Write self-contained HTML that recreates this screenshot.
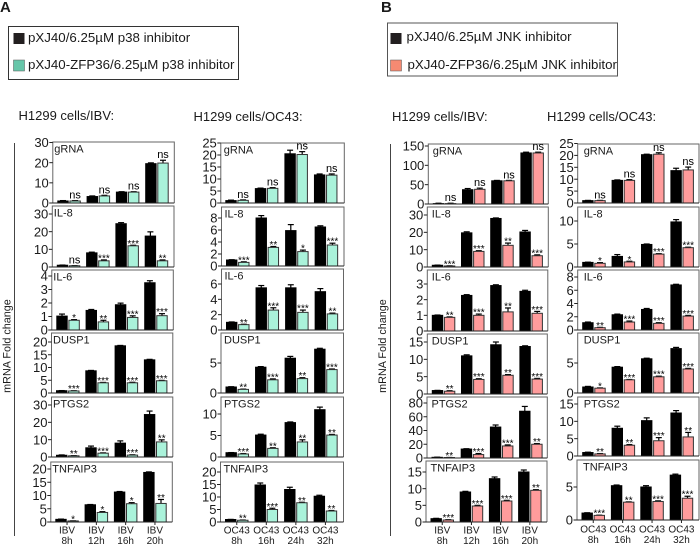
<!DOCTYPE html>
<html lang="en">
<head>
<meta charset="utf-8">
<title>mRNA fold change in H1299 cells with p38 and JNK inhibitors</title>
<style>
html,body{margin:0;padding:0;background:#fff}
#figure{display:block;width:700px;height:548px;font-family:"Liberation Sans",sans-serif;fill:#1a1a1a;filter:blur(0.3px)}
</style>
</head>
<body>
<svg id="figure" xmlns="http://www.w3.org/2000/svg" width="700" height="548" viewBox="0 0 700 548">
  <text x="0" y="12" font-size="15" font-weight="bold">A</text>
  <text x="381" y="12" font-size="15" font-weight="bold">B</text>

  <g>
    <rect x="8.5" y="26.5" width="230" height="53" fill="#fff" stroke="#333" stroke-width="1"/>
    <rect x="13.5" y="33" width="11" height="11" fill="#231f20"/>
    <text x="28" y="42" font-size="13.3">pXJ40/6.25µM p38 inhibitor</text>
    <rect x="13.5" y="60" width="11" height="11" fill="#66c6a9" stroke="#555" stroke-width="0.5"/>
    <text x="28" y="69" font-size="13.3">pXJ40-ZFP36/6.25µM p38 inhibitor</text>
  </g>
  <g>
    <rect x="387.5" y="23" width="230" height="53" fill="#fff" stroke="#555" stroke-width="1"/>
    <rect x="390.5" y="33" width="11" height="11" fill="#231f20"/>
    <text x="406.5" y="41" font-size="13.3">pXJ40/6.25µM JNK inhibitor</text>
    <rect x="390.5" y="60" width="11" height="11" fill="#f58a72" stroke="#555" stroke-width="0.5"/>
    <text x="407.5" y="69" font-size="13.3">pXJ40-ZFP36/6.25µM JNK inhibitor</text>
  </g>

  <text x="18.5" y="120" font-size="13">H1299 cells/IBV:</text>
  <text x="193.5" y="121" font-size="13">H1299 cells/OC43:</text>
  <text x="392" y="121" font-size="13">H1299 cells/IBV:</text>
  <text x="547" y="121" font-size="13">H1299 cells/OC43:</text>

  <line x1="14.5" y1="143" x2="14.5" y2="536" stroke="#444" stroke-width="1"/>
  <line x1="390.5" y1="144" x2="390.5" y2="536" stroke="#444" stroke-width="1"/>
  <text transform="translate(10.5 346) rotate(-90)" text-anchor="middle" font-size="10.8">mRNA Fold change</text>
  <text transform="translate(386 346) rotate(-90)" text-anchor="middle" font-size="10.8">mRNA Fold change</text>
  <g id="charts"></g>
</svg>

<script>
/* ---------- Shared labels ---------- */
const ibvCategories = ['8h', '12h', '16h', '20h'];
const oc43Categories = ['8h', '16h', '24h', '32h'];

/* ---------- A / IBV ---------- */
const aIbvGrnaTicks = [0, 10, 20, 30];
const aIbvGrnaControl = [1, 3.2, 5.4, 19.5];
const aIbvGrnaZfp = [1, 3.5, 5.4, 19.8];
const aIbvGrnaControlErr = [0.2, 0.3, 0.2, 0.4];
const aIbvGrnaZfpErr = [0.2, 0.3, 0.2, 1.4];
const aIbvGrnaSig = ['ns', 'ns', 'ns', 'ns'];

const aIbvIl8Ticks = [0, 10, 20, 30];
const aIbvIl8Control = [1, 8, 24.5, 17.5];
const aIbvIl8Zfp = [0.7, 3.5, 12, 3.5];
const aIbvIl8ControlErr = [0.1, 0.4, 0.6, 2.4];
const aIbvIl8ZfpErr = [0.1, 0.5, 0.3, 0.5];
const aIbvIl8Sig = ['ns', '***', '***', '**'];

const aIbvIl6Ticks = [0, 1, 2, 3, 4];
const aIbvIl6Control = [1.03, 1.45, 1.87, 3.5];
const aIbvIl6Zfp = [0.72, 0.6, 0.93, 1.06];
const aIbvIl6ControlErr = [0.15, 0.07, 0.12, 0.15];
const aIbvIl6ZfpErr = [0.05, 0.12, 0.12, 0.15];
const aIbvIl6Sig = ['*', '**', '***', '***'];

const aIbvDusp1Ticks = [0, 5, 10, 15, 20];
const aIbvDusp1Control = [0.9, 8.7, 18.5, 13];
const aIbvDusp1Zfp = [0.8, 4, 4, 4.8];
const aIbvDusp1ControlErr = [0.05, 0.15, 0.15, 0.2];
const aIbvDusp1ZfpErr = [0.1, 0.15, 0.2, 0.15];
const aIbvDusp1Sig = ['***', '***', '***', '***'];

const aIbvPtgs2Ticks = [0, 10, 20, 30];
const aIbvPtgs2Control = [1, 5.3, 8, 24.5];
const aIbvPtgs2Zfp = [0.7, 2.2, 1.1, 8.7];
const aIbvPtgs2ControlErr = [0.2, 1, 1.3, 2];
const aIbvPtgs2ZfpErr = [0.1, 0.2, 0.2, 1.2];
const aIbvPtgs2Sig = ['**', '***', '***', '**'];

const aIbvTnfTicks = [0, 5, 10, 15, 20];
const aIbvTnfControl = [1, 6.5, 11.3, 18.7];
const aIbvTnfZfp = [0.4, 3.6, 6.9, 7];
const aIbvTnfControlErr = [0.1, 0.1, 0.2, 0.2];
const aIbvTnfZfpErr = [0.05, 0.3, 0.4, 1.5];
const aIbvTnfSig = ['*', '*', '*', '**'];

/* ---------- A / OC43 ---------- */
const aOcGrnaTicks = [0, 5, 10, 15, 20, 25];
const aOcGrnaControl = [1, 6, 20.5, 11.7];
const aOcGrnaZfp = [1.1, 6.1, 20.2, 11.6];
const aOcGrnaControlErr = [0.2, 0.2, 1.5, 0.4];
const aOcGrnaZfpErr = [0.2, 0.3, 1.2, 0.5];
const aOcGrnaSig = ['ns', 'ns', 'ns', 'ns'];

const aOcIl8Ticks = [0, 2, 4, 6, 8];
const aOcIl8Control = [1, 8, 5.9, 6.5];
const aOcIl8Zfp = [0.6, 3.1, 2.4, 3.5];
const aOcIl8ControlErr = [0.05, 0.4, 1, 0.2];
const aOcIl8ZfpErr = [0.1, 0.15, 0.25, 0.3];
const aOcIl8Sig = ['***', '**', '*', '***'];

const aOcIl6Ticks = [0, 2, 4, 6];
const aOcIl6Control = [1, 5.5, 5.5, 5];
const aOcIl6Zfp = [0.7, 2.6, 2.3, 2.1];
const aOcIl6ControlErr = [0.05, 0.3, 0.4, 0.4];
const aOcIl6ZfpErr = [0.05, 0.3, 0.3, 0.1];
const aOcIl6Sig = ['**', '***', '***', '**'];

const aOcDusp1Ticks = [0, 5];
const aOcDusp1Control = [1, 4.3, 5.8, 7.3];
const aOcDusp1Zfp = [0.6, 2.2, 2.4, 3.9];
const aOcDusp1ControlErr = [0.05, 0.1, 0.3, 0.15];
const aOcDusp1ZfpErr = [0.05, 0.15, 0.15, 0.1];
const aOcDusp1Sig = ['**', '***', '**', '***'];

const aOcPtgs2Ticks = [0, 5, 10];
const aOcPtgs2Control = [1, 5.1, 8, 11];
const aOcPtgs2Zfp = [0.7, 2, 3.5, 5.1];
const aOcPtgs2ControlErr = [0.03, 0.2, 0.15, 0.6];
const aOcPtgs2ZfpErr = [0.1, 0.15, 0.5, 0.15];
const aOcPtgs2Sig = ['***', '**', '**', '**'];

const aOcTnfTicks = [0, 5, 10, 15, 20];
const aOcTnfControl = [1, 14.8, 13, 10.3];
const aOcTnfZfp = [0.7, 5, 7.7, 4.4];
const aOcTnfControlErr = [0.05, 0.8, 0.9, 0.4];
const aOcTnfZfpErr = [0.1, 0.5, 0.2, 0.2];
const aOcTnfSig = ['**', '***', '**', '**'];

/* ---------- B / IBV ---------- */
const bIbvGrnaTicks = [0, 50, 100, 150];
const bIbvGrnaControl = [1, 37, 60, 132];
const bIbvGrnaZfp = [1, 38, 60, 132];
const bIbvGrnaControlErr = [1, 3, 1, 2];
const bIbvGrnaZfpErr = [1, 3, 1, 2];
const bIbvGrnaSig = ['ns', 'ns', 'ns', 'ns'];

const bIbvIl8Ticks = [0, 10, 20, 30];
const bIbvIl8Control = [1, 19.7, 28, 20.2];
const bIbvIl8Zfp = [0.6, 9, 12.5, 6.5];
const bIbvIl8ControlErr = [0.1, 0.6, 0.3, 0.9];
const bIbvIl8ZfpErr = [0.1, 0.4, 1.3, 0.5];
const bIbvIl8Sig = ['***', '***', '**', '***'];

const bIbvIl6Ticks = [0, 1, 2, 3];
const bIbvIl6Control = [1, 2.27, 2.9, 2.53];
const bIbvIl6Zfp = [0.87, 1, 1.22, 1.13];
const bIbvIl6ControlErr = [0.02, 0.05, 0.05, 0.07];
const bIbvIl6ZfpErr = [0.03, 0.08, 0.25, 0.12];
const bIbvIl6Sig = ['**', '***', '**', '***'];

const bIbvDusp1Ticks = [0, 5, 10, 15];
const bIbvDusp1Control = [1, 11, 14.2, 13.7];
const bIbvDusp1Zfp = [0.8, 4.2, 5.4, 4.3];
const bIbvDusp1ControlErr = [0.05, 0.3, 0.8, 0.2];
const bIbvDusp1ZfpErr = [0.15, 0.2, 0.2, 0.2];
const bIbvDusp1Sig = ['**', '***', '**', '***'];

const bIbvPtgs2Ticks = [0, 20, 40, 60, 80];
const bIbvPtgs2Control = [1, 13, 45, 68];
const bIbvPtgs2Zfp = [0.7, 5, 17.5, 20];
const bIbvPtgs2ControlErr = [0.2, 0.5, 3, 7];
const bIbvPtgs2ZfpErr = [0.1, 1.5, 1.5, 1];
const bIbvPtgs2Sig = ['**', '***', '***', '**'];

const bIbvTnfTicks = [0, 5, 10, 15];
const bIbvTnfControl = [1, 9, 13, 15];
const bIbvTnfZfp = [0.6, 4.8, 6.3, 9.5];
const bIbvTnfControlErr = [0.1, 0.2, 0.5, 0.6];
const bIbvTnfZfpErr = [0.1, 0.2, 0.2, 0.2];
const bIbvTnfSig = ['***', '***', '***', '**'];

/* ---------- B / OC43 ---------- */
const bOcGrnaTicks = [0, 5, 10, 15, 20, 25];
const bOcGrnaControl = [1, 9.5, 20.3, 13.6];
const bOcGrnaZfp = [1, 9.5, 20.5, 13.9];
const bOcGrnaControlErr = [0.1, 0.2, 0.2, 1];
const bOcGrnaZfpErr = [0.1, 0.3, 0.6, 1.2];
const bOcGrnaSig = ['ns', 'ns', 'ns', 'ns'];

const bOcIl8Ticks = [0, 5, 10];
const bOcIl8Control = [1, 2.3, 4.9, 9.8];
const bOcIl8Zfp = [0.8, 1.1, 2.8, 4.2];
const bOcIl8ControlErr = [0.05, 0.4, 0.1, 0.5];
const bOcIl8ZfpErr = [0.15, 0.15, 0.1, 0.1];
const bOcIl8Sig = ['*', '*', '***', '***'];

const bOcIl6Ticks = [0, 2, 4, 6, 8];
const bOcIl6Control = [1.1, 2.3, 3.1, 6.8];
const bOcIl6Zfp = [0.35, 1.2, 1, 2.1];
const bOcIl6ControlErr = [0.1, 0.1, 0.15, 0.1];
const bOcIl6ZfpErr = [0.05, 0.15, 0.1, 0.1];
const bOcIl6Sig = ['**', '***', '***', '***'];

const bOcDusp1Ticks = [0, 5];
const bOcDusp1Control = [1, 4.3, 5.7, 7.4];
const bOcDusp1Zfp = [0.8, 2.2, 2.7, 4];
const bOcDusp1ControlErr = [0.1, 0.1, 0.1, 0.2];
const bOcDusp1ZfpErr = [0.05, 0.05, 0.1, 0.1];
const bOcDusp1Sig = ['*', '***', '***', '***'];

const bOcPtgs2Ticks = [0, 5, 10, 15];
const bOcPtgs2Control = [1, 8, 10.2, 12.4];
const bOcPtgs2Zfp = [0.6, 3.1, 4.4, 5.5];
const bOcPtgs2ControlErr = [0.1, 0.6, 0.8, 0.7];
const bOcPtgs2ZfpErr = [0.1, 0.2, 0.9, 1.3];
const bOcPtgs2Sig = ['**', '**', '***', '**'];

const bOcTnfTicks = [0, 5];
const bOcTnfControl = [1.05, 5.2, 5, 6.8];
const bOcTnfZfp = [0.7, 2.7, 2.8, 3.3];
const bOcTnfControlErr = [0.05, 0.1, 0.2, 0.15];
const bOcTnfZfpErr = [0.03, 0.05, 0.1, 0.3];
const bOcTnfSig = ['***', '**', '***', '***'];

/* ---------- Layout (pixels; not data) ---------- */
const columns = [
  {id: 'a-ibv', virus: 'IBV', cats: ibvCategories, pitch: 29.3, labelDx: 1.5, zfpFill: '#aaf2da', xLabelY: 533.5, panels: [
    {gene: 'gRNA',    box: [52.8, 174.3, 142, 203], ref: [30, 142.5], ticks: aIbvGrnaTicks,  c: aIbvGrnaControl,  z: aIbvGrnaZfp,  ce: aIbvGrnaControlErr,  ze: aIbvGrnaZfpErr,  sig: aIbvGrnaSig},
    {gene: 'IL-8',    box: [52.3, 174,   206, 267], ref: [30, 214],   ticks: aIbvIl8Ticks,   c: aIbvIl8Control,   z: aIbvIl8Zfp,   ce: aIbvIl8ControlErr,   ze: aIbvIl8ZfpErr,   sig: aIbvIl8Sig},
    {gene: 'IL-6',    box: [51.8, 173.3, 270, 330], ref: [4, 276],    ticks: aIbvIl6Ticks,   c: aIbvIl6Control,   z: aIbvIl6Zfp,   ce: aIbvIl6ControlErr,   ze: aIbvIl6ZfpErr,   sig: aIbvIl6Sig},
    {gene: 'DUSP1',   box: [51.5, 172.8, 333, 393], ref: [20, 342],   ticks: aIbvDusp1Ticks, c: aIbvDusp1Control, z: aIbvDusp1Zfp, ce: aIbvDusp1ControlErr, ze: aIbvDusp1ZfpErr, sig: aIbvDusp1Sig},
    {gene: 'PTGS2',   box: [51.5, 172.8, 397, 457], ref: [30, 405],   ticks: aIbvPtgs2Ticks, c: aIbvPtgs2Control, z: aIbvPtgs2Zfp, ce: aIbvPtgs2ControlErr, ze: aIbvPtgs2ZfpErr, sig: aIbvPtgs2Sig},
    {gene: 'TNFAIP3', box: [50.8, 172.3, 462, 522], ref: [20, 469],   ticks: aIbvTnfTicks,   c: aIbvTnfControl,   z: aIbvTnfZfp,   ce: aIbvTnfControlErr,   ze: aIbvTnfZfpErr,   sig: aIbvTnfSig}
  ]},
  {id: 'a-oc43', virus: 'OC43', cats: oc43Categories, pitch: 29.55, labelDx: 3, zfpFill: '#aaf2da', xLabelY: 533.5, panels: [
    {gene: 'gRNA',    box: [220.8, 344.3, 143, 203], ref: [25, 143],  ticks: aOcGrnaTicks,  c: aOcGrnaControl,  z: aOcGrnaZfp,  ce: aOcGrnaControlErr,  ze: aOcGrnaZfpErr,  sig: aOcGrnaSig},
    {gene: 'IL-8',    box: [221.5, 344,   207, 266], ref: [8, 218],   ticks: aOcIl8Ticks,   c: aOcIl8Control,   z: aOcIl8Zfp,   ce: aOcIl8ControlErr,   ze: aOcIl8ZfpErr,   sig: aOcIl8Sig},
    {gene: 'IL-6',    box: [221.5, 343.5, 269, 330], ref: [6, 284],   ticks: aOcIl6Ticks,   c: aOcIl6Control,   z: aOcIl6Zfp,   ce: aOcIl6ControlErr,   ze: aOcIl6ZfpErr,   sig: aOcIl6Sig},
    {gene: 'DUSP1',   box: [221,   343.5, 333, 393], ref: [5, 363],   ticks: aOcDusp1Ticks, c: aOcDusp1Control, z: aOcDusp1Zfp, ce: aOcDusp1ControlErr, ze: aOcDusp1ZfpErr, sig: aOcDusp1Sig},
    {gene: 'PTGS2',   box: [221,   343.5, 397, 457], ref: [10, 414],  ticks: aOcPtgs2Ticks, c: aOcPtgs2Control, z: aOcPtgs2Zfp, ce: aOcPtgs2ControlErr, ze: aOcPtgs2ZfpErr, sig: aOcPtgs2Sig},
    {gene: 'TNFAIP3', box: [220.5, 343.5, 462, 522], ref: [20, 472],  ticks: aOcTnfTicks,   c: aOcTnfControl,   z: aOcTnfZfp,   ce: aOcTnfControlErr,   ze: aOcTnfZfpErr,   sig: aOcTnfSig}
  ]},
  {id: 'b-ibv', virus: 'IBV', cats: ibvCategories, pitch: 29.2, labelDx: 4.5, zfpFill: '#ff9c9c', xLabelY: 533.5, panels: [
    {gene: 'gRNA',    box: [428.3, 548.3, 144, 204], ref: [150, 146], ticks: bIbvGrnaTicks,  c: bIbvGrnaControl,  z: bIbvGrnaZfp,  ce: bIbvGrnaControlErr,  ze: bIbvGrnaZfpErr,  sig: bIbvGrnaSig},
    {gene: 'IL-8',    box: [427.3, 548.3, 207, 267], ref: [30, 215],  ticks: bIbvIl8Ticks,   c: bIbvIl8Control,   z: bIbvIl8Zfp,   ce: bIbvIl8ControlErr,   ze: bIbvIl8ZfpErr,   sig: bIbvIl8Sig},
    {gene: 'IL-6',    box: [427.3, 547.8, 270, 331], ref: [3, 284],   ticks: bIbvIl6Ticks,   c: bIbvIl6Control,   z: bIbvIl6Zfp,   ce: bIbvIl6ControlErr,   ze: bIbvIl6ZfpErr,   sig: bIbvIl6Sig},
    {gene: 'DUSP1',   box: [427.3, 547.3, 334, 394], ref: [15, 342],  ticks: bIbvDusp1Ticks, c: bIbvDusp1Control, z: bIbvDusp1Zfp, ce: bIbvDusp1ControlErr, ze: bIbvDusp1ZfpErr, sig: bIbvDusp1Sig},
    {gene: 'PTGS2',   box: [427,   547.3, 397, 458], ref: [80, 403],  ticks: bIbvPtgs2Ticks, c: bIbvPtgs2Control, z: bIbvPtgs2Zfp, ce: bIbvPtgs2ControlErr, ze: bIbvPtgs2ZfpErr, sig: bIbvPtgs2Sig},
    {gene: 'TNFAIP3', box: [426,   547,   461, 522], ref: [15, 472],  ticks: bIbvTnfTicks,   c: bIbvTnfControl,   z: bIbvTnfZfp,   ce: bIbvTnfControlErr,   ze: bIbvTnfZfpErr,   sig: bIbvTnfSig}
  ]},
  {id: 'b-oc43', virus: 'OC43', cats: oc43Categories, pitch: 29.4, labelDx: 6, zfpFill: '#ff9c9c', xLabelY: 532.5, panels: [
    {gene: 'gRNA',    box: [577.7, 699, 144, 203], ref: [25, 143.5], ticks: bOcGrnaTicks,  c: bOcGrnaControl,  z: bOcGrnaZfp,  ce: bOcGrnaControlErr,  ze: bOcGrnaZfpErr,  sig: bOcGrnaSig},
    {gene: 'IL-8',    box: [577.7, 699, 207, 267], ref: [10, 221],   ticks: bOcIl8Ticks,   c: bOcIl8Control,   z: bOcIl8Zfp,   ce: bOcIl8ControlErr,   ze: bOcIl8ZfpErr,   sig: bOcIl8Sig},
    {gene: 'IL-6',    box: [577.7, 699, 270, 330], ref: [8, 277],    ticks: bOcIl6Ticks,   c: bOcIl6Control,   z: bOcIl6Zfp,   ce: bOcIl6ControlErr,   ze: bOcIl6ZfpErr,   sig: bOcIl6Sig},
    {gene: 'DUSP1',   box: [577.7, 699, 333, 393], ref: [5, 363],    ticks: bOcDusp1Ticks, c: bOcDusp1Control, z: bOcDusp1Zfp, ce: bOcDusp1ControlErr, ze: bOcDusp1ZfpErr, sig: bOcDusp1Sig},
    {gene: 'PTGS2',   box: [577.7, 699, 397, 456], ref: [15, 404],   ticks: bOcPtgs2Ticks, c: bOcPtgs2Control, z: bOcPtgs2Zfp, ce: bOcPtgs2ControlErr, ze: bOcPtgs2ZfpErr, sig: bOcPtgs2Sig},
    {gene: 'TNFAIP3', box: [577,   699, 460, 520], ref: [5, 487],    ticks: bOcTnfTicks,   c: bOcTnfControl,   z: bOcTnfZfp,   ce: bOcTnfControlErr,   ze: bOcTnfZfpErr,   sig: bOcTnfSig}
  ]}
];

const SVG_NS = 'http://www.w3.org/2000/svg';
const BAR_W = 10.4;
const BAR_GAP = 1.7;
const FIRST_BAR_OFFSET = 5;

function make(parent, tag, attrs, text) {
  const el = document.createElementNS(SVG_NS, tag);
  for (const k in attrs) el.setAttribute(k, attrs[k]);
  if (text !== undefined) el.textContent = text;
  parent.appendChild(el);
  return el;
}
function makeYScale(panel) {
  const bottom = panel.box[3];
  const perUnit = (bottom - panel.ref[1]) / panel.ref[0];
  return function (v) { return bottom - v * perUnit; };
}
function drawBar(g, x, value, err, yScale, fill, stroke, name) {
  const base = yScale(0);
  const top = yScale(value);
  const errTop = yScale(value + err);
  const cx = x + BAR_W / 2;
  const line = make(g, 'line', {x1: cx, y1: top, x2: cx, y2: errTop, stroke: '#000', 'stroke-width': 1.2});
  
  
  const cap = make(g, 'line', {x1: cx - 3, y1: errTop, x2: cx + 3, y2: errTop, stroke: '#000', 'stroke-width': 1.2});
  
  
  const bar = make(g, 'rect', {x: x, y: top, width: BAR_W, height: Math.max(base - top, 0), fill: fill, stroke: stroke, 'stroke-width': 1});
  
  
}
function drawPanel(root, col, panel, isLast) {
  const left = panel.box[0], right = panel.box[1], top = panel.box[2], bottom = panel.box[3];
  const yScale = makeYScale(panel);
  const slug = col.id + '-' + panel.gene.toLowerCase();
  const g = make(root, 'g', {});
  
  

  const frame = make(g, 'path', {d: 'M' + left + ' ' + bottom + 'V' + top + 'H' + right + 'V' + bottom, fill: 'none', stroke: '#666', 'stroke-width': 1});
  
  

  panel.ticks.forEach(function (t) {
    const y = yScale(t);
    const tick = make(g, 'line', {x1: left - 3.5, y1: y, x2: left, y2: y, stroke: '#222', 'stroke-width': 1});
    
    
    const lab = make(g, 'text', {x: left - 4, y: y + 4.7, 'text-anchor': 'end', 'font-size': 13}, String(t));
    
    
  });

  const geneLabel = make(g, 'text', {x: left + col.labelDx, y: top + 10.5, 'font-size': 11}, panel.gene);
  
  

  col.cats.forEach(function (cat, i) {
    const x0 = left + FIRST_BAR_OFFSET + i * col.pitch;
    const x1 = x0 + BAR_W + BAR_GAP;
    drawBar(g, x0, panel.c[i], panel.ce[i], yScale, '#000', '#000', slug + '-control-bar-' + cat);
    drawBar(g, x1, panel.z[i], panel.ze[i], yScale, col.zfpFill, '#333', slug + '-zfp36-bar-' + cat);

    const sigText = panel.sig[i];
    const errTop = yScale(panel.z[i] + panel.ze[i]);
    const isNs = sigText === 'ns';
    const sig = make(g, 'text', {
      x: x1 + BAR_W / 2,
      y: isNs ? errTop - 2 : errTop + 1.5,
      'text-anchor': 'middle',
      'font-size': isNs ? 11 : 10,
      'fill': '#000'
    }, sigText);
    
    

    if (isLast) {
      const groupCx = x0 + BAR_W + BAR_GAP / 2;
      const xt = make(g, 'line', {x1: groupCx, y1: bottom, x2: groupCx, y2: bottom + 3, stroke: '#222', 'stroke-width': 1});
      
      
      const l1 = make(g, 'text', {x: groupCx, y: col.xLabelY, 'text-anchor': 'middle', 'font-size': 10}, col.virus);
      
      
      const l2 = make(g, 'text', {x: groupCx, y: col.xLabelY + 10.5, 'text-anchor': 'middle', 'font-size': 10}, cat);
      
      
    }
  });

  const axis = make(g, 'line', {x1: left - 3.5, y1: bottom, x2: right, y2: bottom, stroke: '#222', 'stroke-width': 1});
  
  
}

const chartsRoot = document.getElementById('charts');
columns.forEach(function (col) {
  col.panels.forEach(function (panel, idx) {
    drawPanel(chartsRoot, col, panel, idx === col.panels.length - 1);
  });
});
</script>
</body>
</html>
